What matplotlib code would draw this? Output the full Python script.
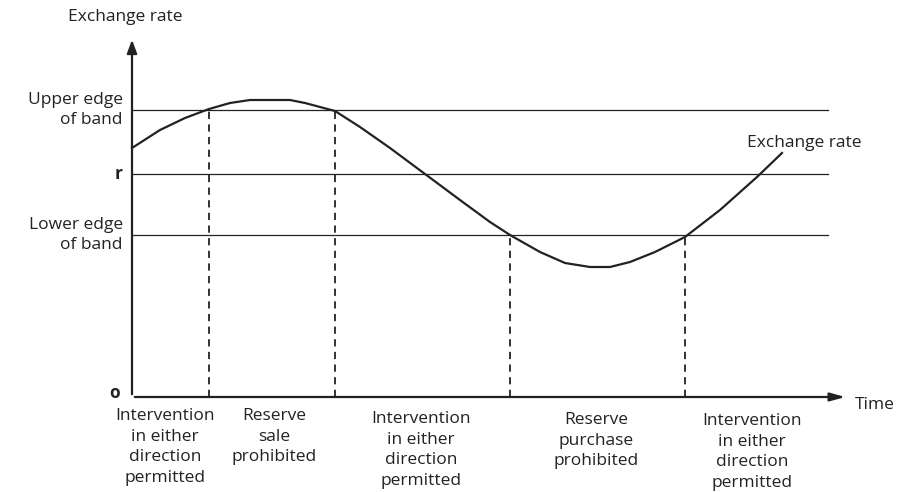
import matplotlib

matplotlib.use("Agg")
import matplotlib.pyplot as plt

# curve of the exchange rate (time, rate)
time_pts = [0, 28, 53, 77, 98, 118, 158, 173, 188, 203, 228, 258, 293, 328, 358, 378,
            408, 433, 458, 478, 498, 523, 553, 588, 625, 650]
rate_pts = [249, 267, 279, 288, 294, 297, 297, 294, 290, 286, 270, 249, 223, 197, 175, 162,
            145, 134, 130, 130, 135, 145, 160, 187, 220, 244]

band_levels = [287, 223, 162]
band_names = ["Upper edge\nof band", "r", "Lower edge\nof band"]
band_end = 696

crossings = [77, 203, 378, 553]
region_centres = [33, 142, 289, 464, 620]
region_labels = [
    "Intervention\nin either\ndirection\npermitted",
    "Reserve\nsale\nprohibited",
    "Intervention\nin either\ndirection\npermitted",
    "Reserve\npurchase\nprohibited",
    "Intervention\nin either\ndirection\npermitted",
]
region_tops = [-11, -11, -14, -15, -16]

ink = "#222222"
font = ["Open Sans", "DejaVu Sans"]
fs = 12.5

fig = plt.figure(figsize=(8.98, 4.92), dpi=100)
ax = fig.add_axes([0, 0, 1, 1])
ax.set_xlim(-132, 766)
ax.set_ylim(-95, 397)
ax.axis("off")

# axes with arrows
ax.annotate("", xy=(0, 360), xytext=(0, 0),
            arrowprops=dict(arrowstyle="-|>,head_length=0.8,head_width=0.3", color=ink, lw=1.6))
ax.annotate("", xy=(716, 0), xytext=(0, 0),
            arrowprops=dict(arrowstyle="-|>,head_length=0.9,head_width=0.25", color=ink, lw=1.6))

for level, name in zip(band_levels, band_names):
    ax.plot([0, band_end], [level, level], color=ink, lw=0.9)
    ax.text(-9, level, name, ha="right", va="center", fontsize=fs, color=ink,
            family=font, linespacing=1.33, fontweight="bold" if name == "r" else "normal")

ax.plot(time_pts, rate_pts, color=ink, lw=1.6)

for t in crossings:
    level = band_levels[0] if t < 250 else band_levels[2]
    ax.plot([t, t], [0, level], color=ink, lw=1.3, ls=(0, (4, 3)))

for c, label, top in zip(region_centres, region_labels, region_tops):
    ax.text(c, top, label, ha="center", va="top", fontsize=fs, color=ink,
            family=font, linespacing=1.38)

ax.text(-64, 380, "Exchange rate", ha="left", va="center", fontsize=fs, color=ink, family=font)
ax.text(615, 254, "Exchange rate", ha="left", va="center", fontsize=fs, color=ink, family=font)
ax.text(723, -8, "Time", ha="left", va="center", fontsize=fs, color=ink, family=font)
ax.text(-12, 4, "o", ha="right", va="center", fontsize=fs, color=ink, family=font,
        fontweight="bold")

fig.savefig("out.png", dpi=100)
